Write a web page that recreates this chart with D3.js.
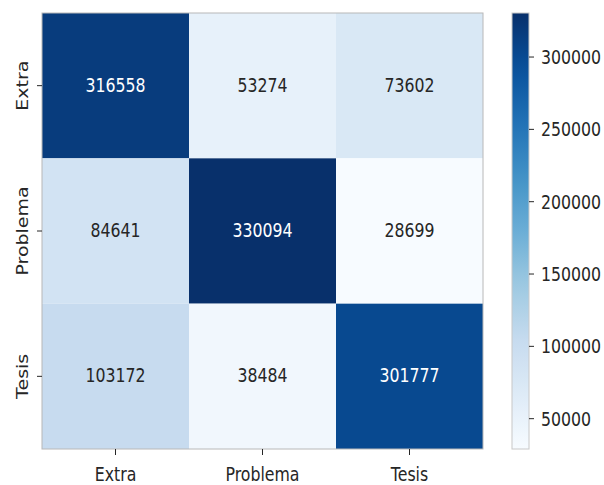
<!DOCTYPE html>
<html>
<head>
<meta charset="utf-8">
<script src="https://cdn.jsdelivr.net/npm/d3@7"></script>
<style>
  body { margin: 0; background: #fff; }
  text { font-family: "DejaVu Sans", sans-serif; }
</style>
</head>
<body>
<svg id="chart" width="604" height="485"></svg>
<script>
// data
var rowNames = ["Extra", "Problema", "Tesis"];
var colNames = ["Extra", "Problema", "Tesis"];
var counts = [
    [316558, 53274, 73602],
    [84641, 330094, 28699],
    [103172, 38484, 301777]
];
var cbTicks = [50000, 100000, 150000, 200000, 250000, 300000];

// matplotlib "Blues"
var BLUES = ["#f7fbff", "#deebf7", "#c6dbef", "#9ecae1", "#6baed6", "#4292c6", "#2171b5", "#08519c", "#08306b"];

var SX = 0.83;          // the picture is squeezed sideways
var FONT = 19;
var DARK = "#262626";

var svg = d3.select("#chart");

var hmLeft = 42, hmRight = 483, hmTop = 13, hmBottom = 449;
var cbLeft = 512, cbRight = 529;

var x = d3.scaleBand().domain(colNames).range([hmLeft, hmRight]);
var y = d3.scaleBand().domain(rowNames).range([hmTop, hmBottom]);

var allVals = d3.merge(counts);
var vmin = d3.min(allVals), vmax = d3.max(allVals);
var t = d3.scaleLinear().domain([vmin, vmax]).range([0, 1]);
var ramp = d3.scaleLinear()
    .domain(d3.range(BLUES.length).map(function(i) { return i / (BLUES.length - 1); }))
    .range(BLUES)
    .interpolate(d3.interpolateRgb);
var color = function(v) { return ramp(t(v)); };

function luminance(c) {
    var rgb = d3.rgb(c);
    var f = function(u) { u = u / 255; return u <= 0.03928 ? u / 12.92 : Math.pow((u + 0.055) / 1.055, 2.4); };
    return 0.2126 * f(rgb.r) + 0.7152 * f(rgb.g) + 0.0722 * f(rgb.b);
}

var cells = [];
counts.forEach(function(row, i) {
    row.forEach(function(v, j) {
        cells.push({ r: rowNames[i], c: colNames[j], v: v });
    });
});

var g = svg.append("g");

g.selectAll("rect.cell")
    .data(cells)
    .enter().append("rect")
    .attr("class", "cell")
    .attr("x", function(d) { return x(d.c); })
    .attr("y", function(d) { return y(d.r); })
    .attr("width", x.bandwidth())
    .attr("height", y.bandwidth())
    .style("fill", function(d) { return color(d.v); });

g.append("rect")
    .attr("x", hmLeft).attr("y", hmTop)
    .attr("width", hmRight - hmLeft).attr("height", hmBottom - hmTop)
    .style("fill", "none")
    .style("stroke", "#b8b8b8")
    .style("stroke-width", 1);

g.selectAll("text.annot")
    .data(cells)
    .enter().append("text")
    .attr("class", "annot")
    .attr("text-anchor", "middle")
    .attr("transform", function(d) {
        return "translate(" + (x(d.c) + x.bandwidth() / 2) + "," + (y(d.r) + y.bandwidth() / 2 + 6) + ") scale(" + SX + ",1)";
    })
    .style("font-size", FONT + "px")
    .style("fill", function(d) { return luminance(color(d.v)) > 0.408 ? DARK : "#ffffff"; })
    .text(function(d) { return d.v; });

// x axis
var xAxis = svg.append("g")
    .attr("transform", "translate(0," + hmBottom + ")")
    .call(d3.axisBottom(x).tickSize(6).tickSizeOuter(0));
xAxis.select(".domain").remove();
xAxis.selectAll("line").style("stroke", DARK);
xAxis.selectAll("text")
    .attr("y", null).attr("dy", null)
    .attr("transform", "translate(0,32) scale(" + SX + ",1)")
    .style("font-size", FONT + "px")
    .style("fill", DARK);

// y axis
var yAxis = svg.append("g")
    .attr("transform", "translate(" + hmLeft + ",0)")
    .call(d3.axisLeft(y).tickSize(5).tickSizeOuter(0));
yAxis.select(".domain").remove();
yAxis.selectAll("line").style("stroke", DARK);
yAxis.selectAll("text")
    .attr("x", null).attr("dy", null)
    .attr("text-anchor", "middle")
    .attr("transform", "translate(-14,0) scale(" + SX + ",1) rotate(-90)")
    .style("font-size", FONT + "px")
    .style("fill", DARK);

// colorbar
var defs = svg.append("defs");
var grad = defs.append("linearGradient")
    .attr("id", "cbgrad")
    .attr("x1", 0).attr("y1", 1).attr("x2", 0).attr("y2", 0);
d3.range(0, 1.0001, 0.05).forEach(function(s) {
    grad.append("stop").attr("offset", s).attr("stop-color", ramp(s));
});

svg.append("rect")
    .attr("x", cbLeft).attr("y", hmTop)
    .attr("width", cbRight - cbLeft).attr("height", hmBottom - hmTop)
    .style("fill", "url(#cbgrad)")
    .style("stroke", "#c8c8c8")
    .style("stroke-width", 1);

var cbScale = d3.scaleLinear().domain([vmin, vmax]).range([hmBottom, hmTop]);
var cbAxis = svg.append("g")
    .attr("transform", "translate(" + cbRight + ",0)")
    .call(d3.axisRight(cbScale).tickValues(cbTicks).tickSize(5).tickFormat(d3.format("d")));
cbAxis.select(".domain").remove();
cbAxis.selectAll("line").style("stroke", DARK);
cbAxis.selectAll("text")
    .attr("x", null).attr("dy", null)
    .attr("transform", "translate(12,7) scale(" + SX + ",1)")
    .style("font-size", FONT + "px")
    .style("fill", DARK);
</script>
</body>
</html>
